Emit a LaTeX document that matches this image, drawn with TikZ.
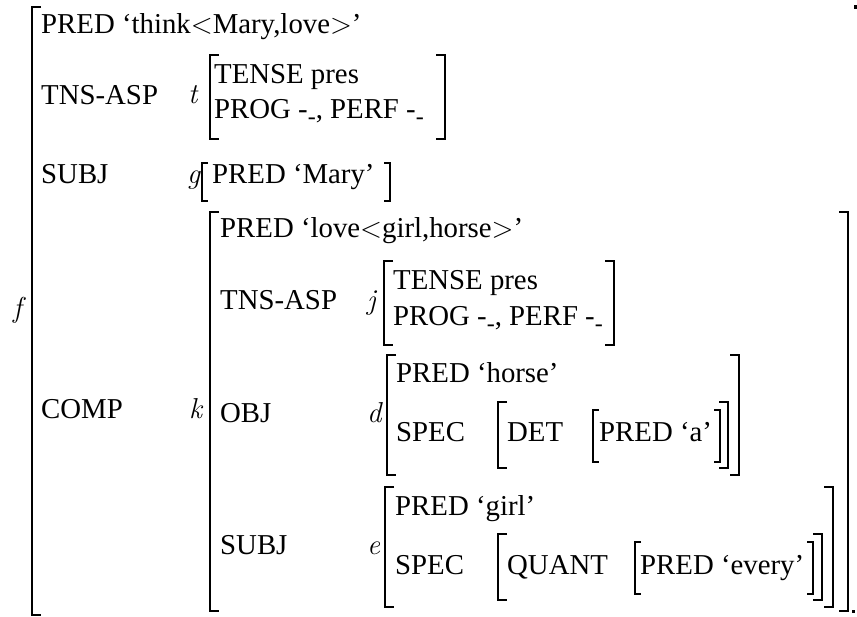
\documentclass[tikz,border=0pt]{standalone}
\usepackage{fontspec}
\setmainfont{Liberation Serif}
\newfontfamily\lmrm{Latin Modern Roman}
\newcommand\subdash{\raisebox{-5.5pt}{\fontsize{24}{24}\selectfont -}}
\newcommand\fvar[1]{{\lmrm\itshape #1}}
\newcommand\lt{{\lmrm<}}
\newcommand\gt{{\lmrm>}}
\newcommand\brtick{9}
% left / right square brackets: x, top y, bottom y
\newcommand\openbr[4][]{\draw[brk,#1] ({#2+\brtick},#3) -- (#2,#3) -- (#2,#4) -- ({#2+\brtick},#4);}
\newcommand\closebr[4][]{\draw[brk,#1] ({#2-\brtick},#3) -- (#2,#3) -- (#2,#4) -- ({#2-\brtick},#4);}
\begin{document}
\begin{tikzpicture}[x=1pt,y=-1pt,
  txt/.style={anchor=base west,inner sep=0pt,font=\fontsize{28.8}{34}\selectfont},
  brk/.style={line width=1.9pt,line cap=butt,line join=miter,/utils/exec={\def\brtick{9}}},
  thin/.style={line width=1.3pt,/utils/exec={\def\brtick{6}}}]
\useasboundingbox (0,0) rectangle (857,617);

% outer structure f
\openbr{32}{7}{615}
\node[txt] (f) at (13,318) {\fvar{f}};
\fill (854,5) rectangle (857,9);
\fill (852,610) rectangle (855,613);

\node[txt] (pred1) at (41,34) {PRED `think\lt Mary,love\gt'};

% TNS-ASP t
\node[txt] (tns1) at (41,105) {TNS-ASP};
\node[txt] (t) at (188,104) {\fvar{t}};
\openbr{210}{55}{139}
\node[txt] (tense1) at (214,84) {TENSE pres};
\node[txt] (prog1) at (214,119) {PROG -\subdash, PERF -\subdash};
\closebr{445}{55}{139}

% SUBJ g
\node[txt] (subj1) at (41,184) {SUBJ};
\node[txt] (g) at (187,184) {\fvar{g}};
\openbr[thin]{202}{163}{201}
\node[txt] (mary) at (212,184) {PRED `Mary'};
\closebr[thin]{390}{163}{201}

% COMP k
\node[txt] (comp) at (41,419) {COMP};
\node[txt] (k) at (189,419) {\fvar{k}};
\openbr{210}{212}{611}
\closebr{848}{212}{611}
\node[txt] (pred2) at (220,238) {PRED `love\lt girl,horse\gt'};

% TNS-ASP j
\node[txt] (tns2) at (220,310) {TNS-ASP};
\node[txt] (j) at (367,310) {\fvar{j}};
\openbr{384}{261}{345}
\node[txt] (tense2) at (393,290) {TENSE pres};
\node[txt] (prog2) at (393,326) {PROG -\subdash, PERF -\subdash};
\closebr{614}{261}{345}

% OBJ d
\node[txt] (obj) at (220,423) {OBJ};
\node[txt] (d) at (367,423) {\fvar{d}};
\openbr{387}{355}{475}
\node[txt] (horse) at (396,383) {PRED `horse'};
\node[txt] (spec1) at (396,442) {SPEC};
\openbr{498}{402}{468}
\node[txt] (det) at (507,442) {DET};
\openbr[thin]{593}{410}{462}
\node[txt] (preda) at (599,442) {PRED `a'};
\closebr[thin]{720}{410}{462}
\closebr{728}{402}{468}
\closebr{739}{355}{475}

% SUBJ e
\node[txt] (subj2) at (220,554) {SUBJ};
\node[txt] (e) at (367,554) {\fvar{e}};
\openbr{385}{487}{607}
\node[txt] (girl) at (395,515) {PRED `girl'};
\node[txt] (spec2) at (395,574) {SPEC};
\openbr{498}{534}{600}
\node[txt] (quant) at (507,574) {QUANT};
\openbr[thin]{635}{542}{594}
\node[txt] (every) at (640,574) {PRED `every'};
\closebr[thin]{813}{542}{594}
\closebr{822}{534}{600}
\closebr{833}{487}{607}
\end{tikzpicture}
\end{document}
